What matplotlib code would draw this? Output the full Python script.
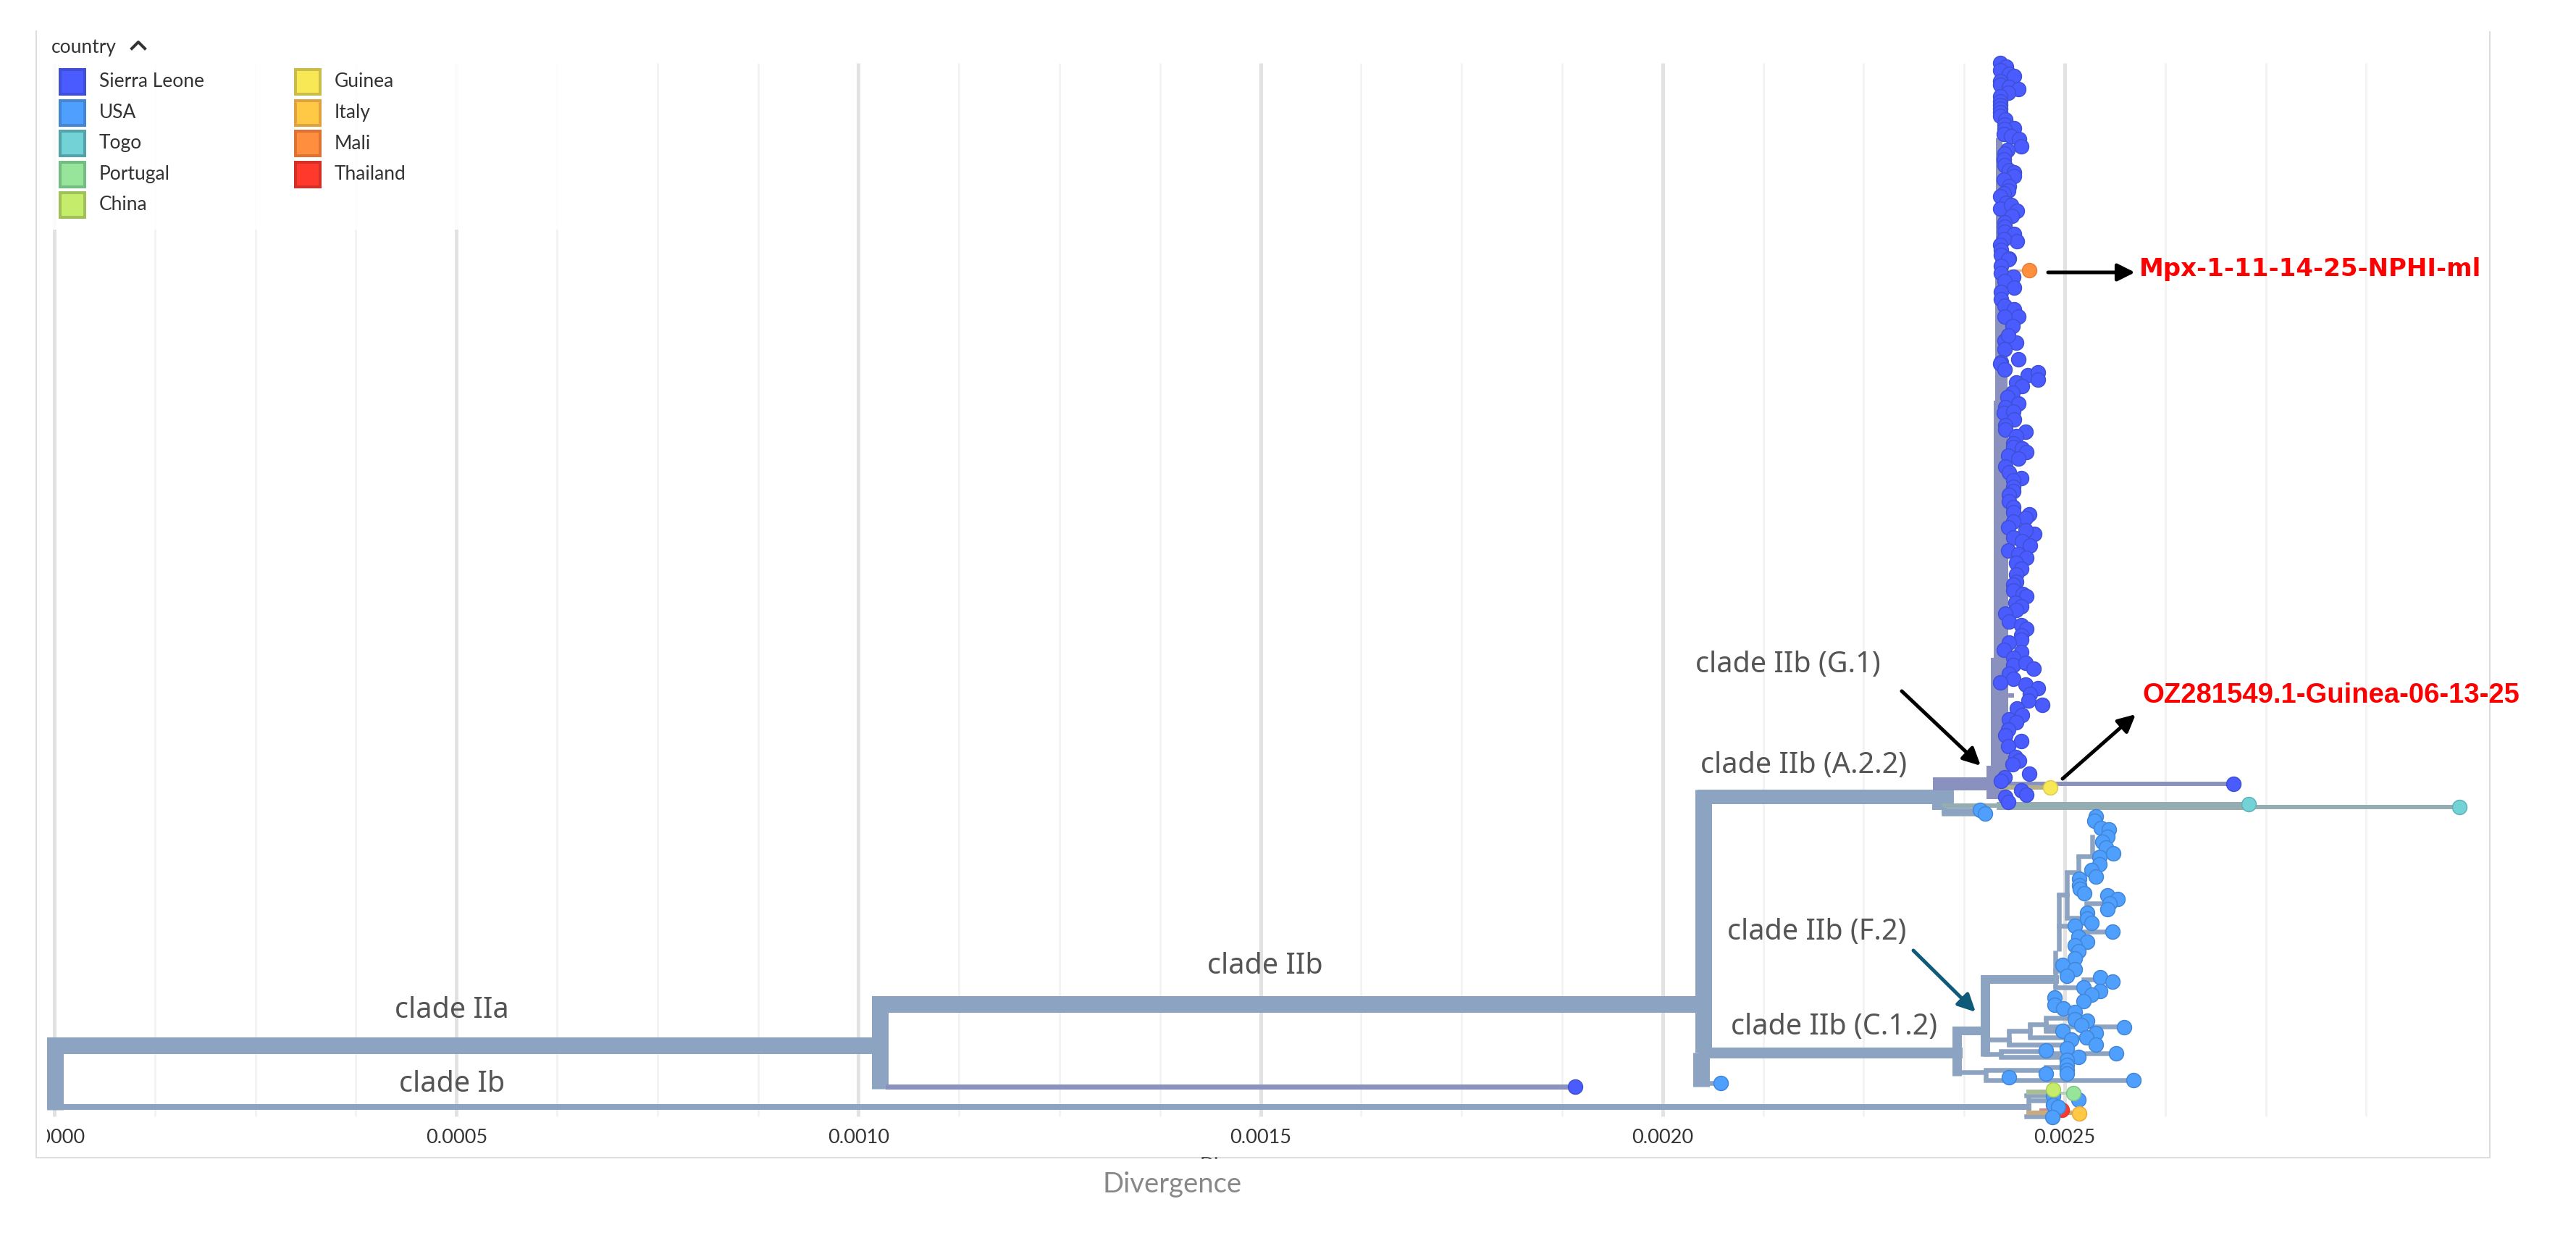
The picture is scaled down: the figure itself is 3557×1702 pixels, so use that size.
import numpy as np
import matplotlib
matplotlib.use('Agg')
import matplotlib.pyplot as plt
from matplotlib.patches import Rectangle
from matplotlib.transforms import Bbox

# divergence values are in units of 1e-6, y is the vertical tree position

# ---- tips, per country
sierra_x = [2420, 2427, 2420, 2431, 2437, 2420, 2420, 2431, 2442, 2430, 2420, 2420, 2420, 2420, 2420, 2420,
            2426, 2425, 2437, 2425, 2424, 2433, 2443, 2446, 2429, 2425, 2424, 2425, 2431, 2437, 2437, 2424,
            2431, 2430, 2424, 2420, 2427, 2420, 2433, 2441, 2434, 2425, 2425, 2425, 2437, 2441, 2424, 2420,
            2421, 2421, 2431,
            2430, 2421, 2421, 2436, 2425, 2437, 2421, 2421, 2425, 2437, 2442, 2425, 2435, 2425, 2440, 2430,
            2425, 2442, 2421,
            2420, 2425, 2454, 2467, 2467, 2440, 2447, 2435, 2429, 2442, 2426, 2424, 2436, 2437, 2426, 2426,
            2451, 2440, 2436, 2436, 2447, 2452, 2430, 2442, 2426, 2431, 2446, 2436, 2436, 2436, 2431, 2431,
            2436, 2436, 2456, 2451, 2436, 2430, 2462, 2451, 2436, 2447, 2457, 2430, 2442, 2452, 2440, 2446,
            2440, 2440, 2436, 2436, 2448, 2452, 2439, 2446, 2440, 2426, 2431, 2446, 2452, 2446, 2446, 2431,
            2424, 2446, 2436, 2436, 2451, 2461, 2431, 2436, 2420, 2451, 2467, 2457, 2455, 2472, 2441, 2447,
            2431, 2440,
            2430, 2426, 2446, 2430, 2439, 2443, 2435, 2456, 2425, 2421, 2446, 2452, 2426, 2430,
            2710, 1891]
sierra_y = [87, 92, 97, 102, 105, 112, 117, 120, 123, 128, 133, 140, 145, 150, 155, 160,
            165, 172, 177, 178, 185, 188, 192, 202, 207, 212, 220, 228, 235, 238, 243, 248,
            257, 263, 267, 271, 280, 288, 283, 291, 298, 307, 313, 320, 323, 333, 330, 338,
            345, 352, 357,
            358, 367, 377, 382, 388, 397, 403, 413, 422, 427, 437, 437, 450, 470, 473, 463,
            482, 496, 500,
            502, 510, 518, 514, 524, 528, 533, 542, 548, 557, 562, 570, 568, 579, 587, 593,
            596, 602, 612, 617, 619, 624, 629, 633, 644, 652, 660, 663, 672, 678, 683, 692,
            700, 707, 710, 715, 720, 728, 737, 732, 742, 747, 753, 760, 765, 770, 777, 785,
            793, 803, 807, 815, 820, 823, 832, 837, 842, 847, 858, 863, 868, 877, 883, 887,
            897, 900, 908, 918, 915, 923, 930, 937, 942, 945, 950, 958, 967, 973, 978, 987,
            993, 997,
            1007, 1015, 1023, 1030, 1045, 1050, 1055, 1068, 1073, 1078, 1091, 1097, 1100, 1107,
            1082, 1500]

usa_x = [2072, 2395, 2401, 2539, 2537, 2545, 2555, 2553, 2547, 2551, 2560, 2543, 2543, 2533, 2539,
         2518, 2518, 2519, 2524, 2553, 2566, 2556, 2553, 2528, 2528, 2533, 2513, 2559, 2517, 2528,
         2513, 2517, 2513, 2497, 2513, 2503, 2544, 2559, 2523, 2544, 2533, 2523, 2487, 2487, 2498,
         2513, 2513, 2528, 2521, 2497, 2574, 2539, 2527, 2508, 2539, 2503, 2477, 2564, 2517,
         2503, 2503, 2503, 2503, 2477, 2431, 2586,
         2517, 2486, 2486, 2492, 2485]
usa_y = [1495, 1118, 1123, 1127, 1133, 1143, 1145, 1155, 1162, 1170, 1178, 1183, 1193, 1201, 1210,
         1213, 1222, 1227, 1233, 1236, 1241, 1247, 1255, 1260, 1268, 1274, 1278, 1286, 1293, 1300,
         1305, 1313, 1323, 1332, 1338, 1347, 1349, 1355, 1363, 1368, 1373, 1382, 1377, 1387, 1392,
         1397, 1407, 1409, 1415, 1423, 1418, 1426, 1432, 1435, 1442, 1447, 1450, 1454, 1459,
         1463, 1470, 1477, 1482, 1482, 1487, 1491,
         1518, 1513, 1525, 1528, 1542]

togo_x = [2729, 2991]
togo_y = [1110, 1114]
portugal_x = [2511]
portugal_y = [1509]
china_x = [2486]
china_y = [1504]
guinea_x = [2482]
guinea_y = [1087]
italy_x = [2518]
italy_y = [1537]
mali_x = [2456]
mali_y = [373]
thailand_x = [2496]
thailand_y = [1532]

# ---- branches: horizontal (start, end, y), vertical (x, y top, y bottom)
root_h = [(1, 1027, 1443), (1027, 2051, 1386)]
root_v = [(1, 1433, 1532), (1027, 1375, 1503), (2051, 1090, 1453), (2048, 1453, 1500)]
a22_h = [(2052, 2353, 1100)]
a22_v = [(2344, 1090, 1118)]
c12_h = [(2051, 2366, 1453)]
ib_h = [(1, 2455, 1528)]
iia_h = [(1037, 1891, 1500)]
mid_h = [(2366, 2401, 1423), (2401, 2487, 1352)]
mid_v = [(2366, 1418, 1485), (2401, 1347, 1458)]
thin_h = [(2051, 2072, 1495), (2401, 2431, 1435), (2431, 2457, 1423), (2457, 2477, 1414), (2477, 2515, 1405),
          (2477, 2499, 1423), (2477, 2574, 1417), (2457, 2527, 1432), (2431, 2503, 1442), (2401, 2421, 1455),
          (2421, 2475, 1451), (2421, 2503, 1459), (2475, 2564, 1454), (2366, 2401, 1480), (2402, 2477, 1477),
          (2477, 2503, 1473), (2402, 2586, 1491), (2350, 2395, 1118), (2350, 2401, 1123),
          (2493, 2503, 1235), (2503, 2517, 1204), (2517, 2533, 1182), (2503, 2520, 1267), (2488, 2525, 1363),
          (2488, 2513, 1340), (2493, 2513, 1278), (2513, 2559, 1286), (2527, 2553, 1247), (2523, 2544, 1352),
          (2452, 2478, 1512), (2457, 2478, 1519), (2452, 2478, 1541)]
thin_v = [(2431, 1423, 1443), (2457, 1413, 1432), (2477, 1405, 1423), (2421, 1451, 1459), (2402, 1477, 1491),
          (2488, 1312, 1363), (2493, 1233, 1313), (2503, 1202, 1267), (2517, 1180, 1203), (2534, 1152, 1180),
          (2350, 1113, 1123), (2455, 1510, 1542)]
togo_h = [(2420, 2729, 1112)]
togo_thin_h = [(2350, 2421, 1112), (2729, 2991, 1114)]
g1_h = [(2344, 2406, 1082)]
g1_thin_h = [(2421, 2710, 1082), (2421, 2434, 960)]
g1_v_wide = [(2416, 1057, 1103)]
g1_v_mid = [(2419, 908, 1057)]
g1_v_low = [(2421, 553, 908)]
g1_v_high = [(2421, 340, 553)]
g1_v_top = [(2418, 190, 340)]
guinea_h = [(2421, 2482, 1087)]
mali_h = [(2421, 2456, 373)]
china_h = [(2455, 2486, 1507)]
portugal_h = [(2486, 2511, 1509)]
thailand_h = [(2470, 2496, 1532)]
italy_h = [(2455, 2518, 1536)]

# ---- labels
countries_left = ['Sierra Leone', 'USA', 'Togo', 'Portugal', 'China']
colors_left = [('#4a5cff', '#3f50d6'), ('#4f9fff', '#4286d6'), ('#73d2d6', '#52a3aa'),
               ('#97e59b', '#74bd82'), ('#c6ec6b', '#a0c058')]
countries_right = ['Guinea', 'Italy', 'Mali', 'Thailand']
colors_right = [('#f9e855', '#c9bc48'), ('#ffc845', '#dfa23c'), ('#ff8f3f', '#dd7232'), ('#ff3a2d', '#d33027')]
tick_values = [0, 0.0005, 0.0010, 0.0015, 0.0020, 0.0025]
tick_labels = ['0.0000', '0.0005', '0.0010', '0.0015', '0.0020', '0.0025']

BLUE = '#8ca3c1'
PURPLE = '#8a91be'
TEAL = '#93adb0'

W, H = 3557, 1702
PX = 0.72  # one pixel in points at dpi 100
PX_PER_DIV = 1110400
X0 = 75

fig = plt.figure(figsize=(W / 100, H / 100), dpi=100, facecolor='white')

ax = fig.add_axes([0, 0, 1, 1])
ax.set_xlim(-X0 / PX_PER_DIV, (W - X0) / PX_PER_DIV)
ax.set_ylim(H, 0)
ax.axis('off')

pix = fig.add_axes([0, 0, 1, 1])
pix.set_xlim(0, W)
pix.set_ylim(H, 0)
pix.axis('off')
pix.patch.set_alpha(0)

# grid
for k in range(24):
    major = k % 4 == 0
    ax.vlines(k * 0.000125, 87, 1541, color='#e2e2e2' if major else '#f3f3f3',
              lw=(5 if major else 3) * PX, zorder=1)


def hbranch(segs, width, color=BLUE, z=2):
    x0 = np.array([s[0] for s in segs]) * 1e-6
    x1 = np.array([s[1] for s in segs]) * 1e-6
    y = [s[2] for s in segs]
    ax.hlines(y, x0, x1, color=color, lw=width * PX, capstyle='projecting', zorder=z)


def vbranch(segs, width, color=BLUE, z=2):
    x = np.array([s[0] for s in segs]) * 1e-6
    y0 = [s[1] for s in segs]
    y1 = [s[2] for s in segs]
    ax.vlines(x, y0, y1, color=color, lw=width * PX, capstyle='butt', zorder=z)


vbranch(root_v, 23)
hbranch(root_h, 23)
hbranch(a22_h, 20)
vbranch(a22_v, 20)
hbranch(c12_h, 15)
hbranch(ib_h, 8)
hbranch(iia_h, 7, PURPLE)
hbranch(mid_h, 12)
vbranch(mid_v, 13)
hbranch(thin_h, 6.5)
vbranch(thin_v, 6.5)
hbranch(togo_thin_h, 6, TEAL)
hbranch(togo_h, 11, TEAL)
hbranch(g1_h, 18, PURPLE)
hbranch(g1_thin_h, 6, PURPLE)
vbranch(g1_v_wide, 30, PURPLE)
vbranch(g1_v_mid, 24, PURPLE)
vbranch(g1_v_low, 20, PURPLE)
vbranch(g1_v_high, 17, PURPLE)
vbranch(g1_v_top, 9, PURPLE)
hbranch(guinea_h, 6, '#b3ae8c')
hbranch(mali_h, 3, '#e3b58f')
hbranch(china_h, 7, '#a8bc95')
hbranch(portugal_h, 4, '#b4cfb1')
hbranch(thailand_h, 5, '#cf8a8a')
hbranch(italy_h, 6, '#c8ab7c')


def tips(xs, ys, fill, edge, z=3):
    ax.scatter(np.array(xs) * 1e-6, ys, s=205, facecolor=fill, edgecolor=edge, linewidth=1.1, zorder=z)


tips(thailand_x, thailand_y, '#ff3a2d', '#e8352a')
tips(sierra_x, sierra_y, '#4a5cff', '#3f50d6')
tips(usa_x, usa_y, '#4f9fff', '#4286d6')
tips(togo_x, togo_y, '#73d2d6', '#5eb3b8')
tips(portugal_x, portugal_y, '#97e59b', '#7cc488')
tips(china_x, china_y, '#c6ec6b', '#abcb5e')
tips(guinea_x, guinea_y, '#f9e855', '#dccb4c')
tips(italy_x, italy_y, '#ffc845', '#e5aa3e')
tips(mali_x, mali_y, '#ff8f3f', '#e57f38')

# panel border
pix.plot([50, 50], [43, 1598], color='#dddddd', lw=2 * PX, zorder=1)
pix.plot([50, 3438, 3438], [1598, 1598, 44], color='#dddddd', lw=2 * PX, zorder=1)

# legend
pix.add_patch(Rectangle((62, 44), 720, 273, facecolor='white', alpha=0.88, edgecolor='none', zorder=1.5))
pix.text(71, 65, 'country', family='Lato', fontsize=19, color='#333333', va='center', ha='left', zorder=6)
pix.plot([182, 191, 200], [67, 58, 67], color='#333333', lw=4 * PX, zorder=6)

for i, (name, col) in enumerate(zip(countries_left, colors_left)):
    yc = 113 + i * 42.5
    pix.add_patch(Rectangle((83, yc - 17), 34, 34, facecolor=col[0], edgecolor=col[1], lw=4 * PX, zorder=6))
    pix.text(137, yc, name, family='Lato', fontsize=19, color='#333333', va='center', ha='left', zorder=6)
for i, (name, col) in enumerate(zip(countries_right, colors_right)):
    yc = 113 + i * 42.5
    pix.add_patch(Rectangle((408, yc - 17), 34, 34, facecolor=col[0], edgecolor=col[1], lw=4 * PX, zorder=6))
    pix.text(462, yc, name, family='Lato', fontsize=19, color='#333333', va='center', ha='left', zorder=6)

# x tick labels, the first one is cut off by the panel
for v, lab in zip(tick_values, tick_labels):
    t = pix.text(X0 + v * PX_PER_DIV, 1571, lab, family='Lato', fontsize=19.5, color='#333333',
                 ha='center', va='center', zorder=6)
    if v == 0:
        t.set_clip_box(Bbox([[65, H - 1600], [200, H - 1540]]))
        t.set_clip_on(True)

pix.text(1619, 1635, 'Divergence', family='Lato', fontsize=27.5, color='#888888', ha='center', va='center')
frag = pix.text(1657, 1597, 'Di', family='Lato', fontsize=19, color='#555555', ha='left', va='top')
frag.set_clip_box(Bbox([[1650, H - 1600], [1700, H - 1596]]))
frag.set_clip_on(True)

# clade labels
clade_text = [('clade IIa', 624, 1395), ('clade Ib', 624, 1497), ('clade IIb', 1747, 1334),
              ('clade IIb (G.1)', 2469, 918), ('clade IIb (A.2.2)', 2491, 1057),
              ('clade IIb (F.2)', 2509, 1287), ('clade IIb (C.1.2)', 2533, 1418)]
for lab, x, y in clade_text:
    pix.text(x, y, lab, family='Noto Sans', fontsize=28.5, color='#555555', ha='center', va='center', zorder=6)

# red strain labels
pix.text(2954, 372, 'Mpx-1-11-14-25-NPHI-ml', family='DejaVu Sans', weight='bold', fontsize=24.5, color='#ff0000',
         ha='left', va='center', zorder=6)
pix.text(2958, 960, 'OZ281549.1-Guinea-06-13-25', family='Liberation Sans', weight='bold', fontsize=27.5,
         color='#ff0000', ha='left', va='center', zorder=6)


def arrow(start, end, color='black'):
    pix.annotate('', xy=end, xytext=start, zorder=7,
                 arrowprops=dict(arrowstyle='-|>', lw=5 * PX, color=color, mutation_scale=36,
                                 shrinkA=0, shrinkB=0))


arrow((2828, 376), (2948, 376))
arrow((2848, 1075), (2949, 986))
arrow((2626, 954), (2735, 1057))
arrow((2642, 1312), (2728, 1397), color='#0f5a78')

fig.savefig('out.png', dpi=100)
